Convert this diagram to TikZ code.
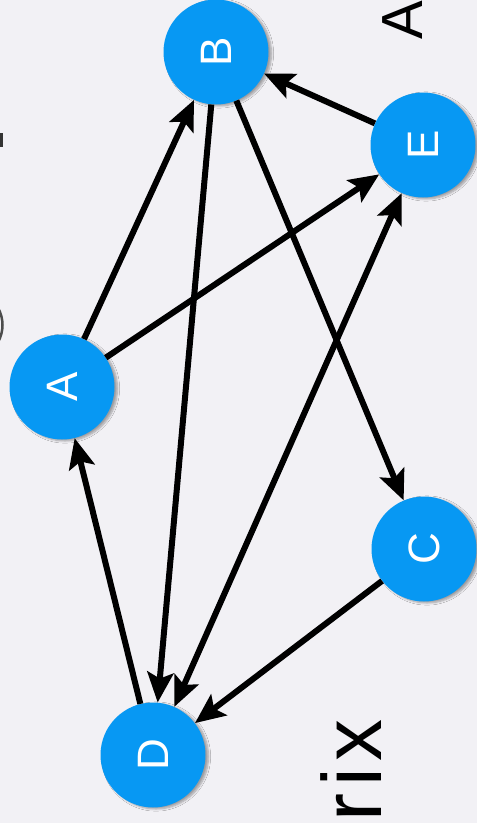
\documentclass[tikz,border=0pt]{standalone}
\usepackage{fontspec}
\setmainfont{Liberation Sans}
\usetikzlibrary{arrows.meta,shadows.blur}

\definecolor{paper}{HTML}{F2F1F5}
\definecolor{nodeblue}{HTML}{0798F3}

\tikzset{
  vertex/.style={circle, fill=nodeblue, minimum size=105pt, inner sep=0pt,
    text=white, font=\fontsize{44}{44}\selectfont,
    blur shadow={shadow xshift=3pt, shadow yshift=-1.5pt, shadow blur steps=6, shadow opacity=35}},
  tip/.tip={Stealth[length=30pt, width=26pt, inset=6pt]},
  link/.style={line width=6pt, black, -tip},
  bilink/.style={line width=6pt, black, tip-tip},
  caption/.style={inner sep=0pt, rotate=90, text=black}
}

\begin{document}
\begin{tikzpicture}[x=1pt, y=1pt]
  \useasboundingbox (0,0) rectangle (477,-823);
  \fill[paper] (0,0) rectangle (477,-823);
  \clip (0,0) rectangle (477,-823);

  % caption fragments
  \node[caption, anchor=base west, font=\fontsize{58}{58}\selectfont] (capA) at (422,-40) {A};
  \node[caption, anchor=base east, font=\fontsize{84}{84}\selectfont] (capB) at (381,-719) {\addfontfeature{LetterSpace=8}trix};
  \fill[black!80] (0,-133) rectangle (3,-147);
  \draw[black!70, line width=2.5pt] (-2,-308) .. controls (4,-318) and (4,-332) .. (-2,-342);

  % vertices
  \node[vertex] (A) at (62,-387) {\rotatebox{90}{A}};
  \node[vertex] (B) at (216,-52) {\rotatebox{90}{B}};
  \node[vertex] (C) at (424,-549) {\rotatebox{90}{C}};
  \node[vertex] (D) at (153,-755) {\rotatebox{90}{D}};
  \node[vertex] (E) at (423,-145) {\rotatebox{90}{E}};

  % edges
  \draw[link] (A) -- (B);
  \draw[link] (A) -- (E);
  \draw[link] (B) -- (D);
  \draw[link] (B) -- (C);
  \draw[link] (E) -- (B);
  \draw[bilink] (D) -- (E);
  \draw[link] (C) -- (D);
  \draw[link] (D) -- (A);
\end{tikzpicture}
\end{document}
